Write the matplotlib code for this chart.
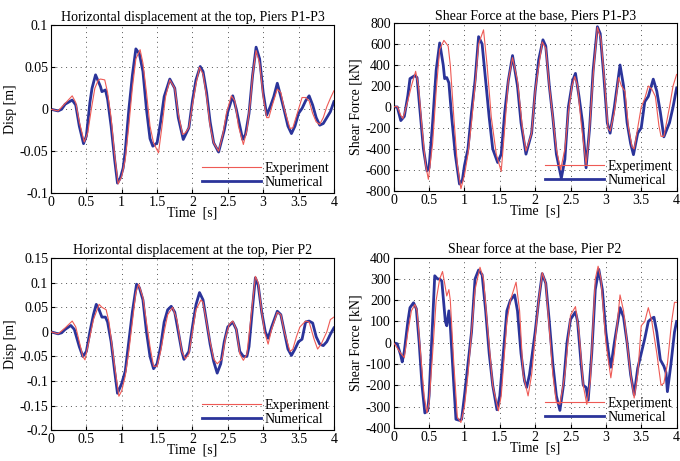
import matplotlib
matplotlib.use("Agg")
import matplotlib.pyplot as plt

plt.rcParams['font.family'] = ['Liberation Serif', 'DejaVu Serif']
plt.rcParams['axes.unicode_minus'] = False

x_ticks = [0, 0.5, 1, 1.5, 2, 2.5, 3, 3.5, 4]
x_tick_labels = ["0", "0.5", "1", "1.5", "2", "2.5", "3", "3.5", "4"]

titles = ["Horizontal displacement at the top, Piers P1-P3",
          "Shear Force at the base, Piers P1-P3",
          "Horizontal displacement at the top, Pier P2",
          "Shear force at the base, Pier P2"]
ylabels = ["Disp [m]", "Shear Force [kN]", "Disp [m]", "Shear Force [kN]"]
xlabel = "Time  [s]"
legend_labels = ["Experiment", "Numerical"]

y1_ticks = [-0.1, -0.05, 0, 0.05, 0.1]
y1_labels = ["-0.1", "-0.05", "0", "0.05", "0.1"]
y2_ticks = [-800, -600, -400, -200, 0, 200, 400, 600, 800]
y2_labels = ["-800", "-600", "-400", "-200", "0", "200", "400", "600", "800"]
y3_ticks = [-0.2, -0.15, -0.1, -0.05, 0, 0.05, 0.1, 0.15]
y3_labels = ["-0.2", "-0.15", "-0.1", "-0.05", "0", "0.05", "0.1", "0.15"]
y4_ticks = [-400, -300, -200, -100, 0, 100, 200, 300, 400]
y4_labels = ["-400", "-300", "-200", "-100", "0", "100", "200", "300", "400"]

# Panel 1: displacement, piers P1-P3  (time [s], disp [m])
p1_exp = [(0,0),(0.1,-0.002),(0.2,0.007),(0.3,0.016),(0.35,0.008),(0.4,-0.015),(0.47,-0.039),(0.52,-0.028),
          (0.57,0.0),(0.62,0.025),(0.67,0.035),(0.7,0.036),(0.76,0.035),(0.8,0.02),(0.85,-0.01),(0.9,-0.055),
          (0.95,-0.089),(1.0,-0.08),(1.05,-0.06),(1.1,-0.02),(1.15,0.025),(1.2,0.06),(1.26,0.071),(1.3,0.055),
          (1.35,0.02),(1.4,-0.02),(1.45,-0.04),(1.52,-0.052),(1.57,-0.02),(1.62,0.015),(1.68,0.035),(1.75,0.025),
          (1.8,-0.005),(1.86,-0.03),(1.9,-0.028),(1.95,-0.022),(2.0,0.005),(2.05,0.03),(2.1,0.05),(2.15,0.042),
          (2.2,0.015),(2.25,-0.02),(2.3,-0.04),(2.37,-0.05),(2.43,-0.03),(2.48,-0.005),(2.55,0.016),(2.6,0.01),
          (2.65,-0.02),(2.72,-0.042),(2.77,-0.025),(2.82,0.01),(2.85,0.04),(2.9,0.07),(2.95,0.055),(3.0,0.015),
          (3.05,-0.01),(3.08,-0.01),(3.13,0.005),(3.2,0.024),(3.25,0.02),(3.3,0.0),(3.38,-0.023),(3.42,-0.022),
          (3.5,0.0),(3.55,0.014),(3.6,0.014),(3.65,0.01),(3.7,-0.005),(3.75,-0.015),(3.8,-0.018),(3.85,-0.01),
          (3.9,0.003),(3.95,0.013),(4.0,0.022)]
p1_num = [(0,0),(0.1,-0.002),(0.15,0),(0.2,0.006),(0.3,0.011),(0.35,0.005),(0.4,-0.02),(0.46,-0.041),(0.5,-0.032),
          (0.55,0.008),(0.58,0.025),(0.63,0.041),(0.7,0.027),(0.72,0.021),(0.77,0.023),(0.8,0.012),(0.85,-0.02),
          (0.9,-0.06),(0.94,-0.088),(0.98,-0.082),(1.02,-0.07),(1.05,-0.05),(1.1,-0.001),(1.15,0.04),(1.2,0.072),
          (1.25,0.066),(1.3,0.045),(1.35,0.0),(1.4,-0.035),(1.44,-0.044),(1.5,-0.04),(1.55,-0.015),(1.6,0.015),
          (1.68,0.036),(1.75,0.025),(1.8,-0.01),(1.87,-0.036),(1.95,-0.022),(2.0,0.01),(2.05,0.035),(2.11,0.051),
          (2.15,0.045),(2.2,0.02),(2.25,-0.015),(2.3,-0.04),(2.37,-0.051),(2.45,-0.025),(2.5,-0.003),(2.57,0.016),
          (2.62,0.0),(2.67,-0.02),(2.71,-0.036),(2.75,-0.03),(2.8,-0.005),(2.85,0.04),(2.9,0.074),(2.95,0.06),
          (3.0,0.02),(3.05,-0.007),(3.1,0.003),(3.15,0.015),(3.2,0.031),(3.25,0.015),(3.3,-0.002),(3.35,-0.02),
          (3.4,-0.029),(3.45,-0.02),(3.5,-0.005),(3.55,0.001),(3.6,0.01),(3.65,0.016),(3.7,0.005),(3.75,-0.01),
          (3.8,-0.019),(3.85,-0.017),(3.9,-0.01),(3.95,-0.003),(4.0,0.009)]

# Panel 2: shear force, piers P1-P3 (time [s], force [kN])
p2_exp = [(0,0),(0.05,5),(0.1,-80),(0.13,-110),(0.2,60),(0.25,200),(0.31,340),(0.35,200),(0.4,-200),(0.45,-550),
          (0.49,-690),(0.55,-350),(0.6,150),(0.65,550),(0.71,635),(0.77,580),(0.8,400),(0.85,-100),(0.9,-550),
          (0.95,-780),(1.0,-650),(1.05,-450),(1.1,-150),(1.15,200),(1.2,600),(1.27,735),(1.32,400),(1.38,-100),
          (1.45,-450),(1.52,-615),(1.57,-200),(1.62,250),(1.68,470),(1.75,250),(1.82,-200),(1.87,-420),(1.95,-250),
          (2.0,150),(2.1,620),(2.15,560),(2.2,200),(2.3,-400),(2.36,-600),(2.42,-400),(2.47,-50),(2.52,200),
          (2.56,290),(2.6,200),(2.65,-150),(2.72,-550),(2.76,-300),(2.82,300),(2.88,760),(2.93,650),(2.98,250),
          (3.03,-200),(3.06,-230),(3.12,-50),(3.18,280),(3.22,200),(3.27,150),(3.32,-200),(3.37,-380),(3.4,-400),
          (3.45,-200),(3.5,0),(3.55,80),(3.6,200),(3.65,170),(3.7,100),(3.75,-180),(3.78,-280),(3.82,-280),
          (3.9,0),(3.95,200),(4.0,310)]
p2_num = [(0,0),(0.05,0),(0.1,-130),(0.15,-90),(0.2,110),(0.23,270),(0.3,300),(0.33,280),(0.38,-100),(0.42,-400),
          (0.47,-610),(0.5,-580),(0.55,-150),(0.6,350),(0.65,610),(0.7,400),(0.72,270),(0.75,280),(0.78,230),
          (0.82,-100),(0.87,-450),(0.93,-735),(0.97,-700),(1.0,-560),(1.05,-400),(1.1,-50),(1.15,250),(1.2,670),
          (1.25,600),(1.3,250),(1.35,-100),(1.4,-400),(1.47,-530),(1.52,-450),(1.57,-50),(1.62,250),(1.68,490),
          (1.75,200),(1.8,-150),(1.87,-450),(1.95,-250),(2.0,150),(2.05,450),(2.11,640),(2.15,580),(2.2,200),
          (2.25,-100),(2.3,-450),(2.37,-680),(2.42,-500),(2.47,0),(2.53,250),(2.57,320),(2.62,100),(2.67,-150),
          (2.72,-580),(2.77,-200),(2.82,350),(2.88,765),(2.92,700),(2.97,300),(3.02,-150),(3.06,-250),(3.12,0),
          (3.2,400),(3.25,200),(3.3,-150),(3.35,-350),(3.39,-455),(3.45,-250),(3.5,-200),(3.55,50),(3.6,100),
          (3.67,265),(3.72,150),(3.77,-50),(3.82,-285),(3.9,-150),(3.95,0),(4.0,180)]

# Panel 3: displacement, pier P2
p3_exp = [(0,0),(0.1,-0.004),(0.2,0.008),(0.3,0.022),(0.35,0.01),(0.45,-0.05),(0.48,-0.057),(0.55,-0.01),
          (0.6,0.025),(0.68,0.056),(0.72,0.05),(0.78,0.045),(0.82,0.02),(0.9,-0.07),(0.96,-0.131),(1.0,-0.12),
          (1.05,-0.09),(1.1,-0.04),(1.15,0.02),(1.2,0.08),(1.24,0.097),(1.3,0.07),(1.35,0.02),(1.4,-0.03),
          (1.45,-0.07),(1.5,-0.07),(1.55,-0.04),(1.6,0.0),(1.65,0.035),(1.72,0.05),(1.78,0.025),(1.85,-0.04),
          (1.9,-0.055),(1.95,-0.045),(2.0,0.0),(2.05,0.045),(2.12,0.065),(2.15,0.06),(2.2,0.02),(2.25,-0.02),
          (2.3,-0.055),(2.35,-0.065),(2.42,-0.055),(2.47,-0.01),(2.52,0.015),(2.57,0.022),(2.62,0.005),(2.67,-0.045),
          (2.72,-0.058),(2.77,-0.045),(2.82,0.02),(2.89,0.113),(2.93,0.1),(2.98,0.04),(3.02,0.0),(3.07,-0.025),
          (3.12,0.005),(3.2,0.04),(3.25,0.035),(3.3,0.0),(3.38,-0.04),(3.42,-0.035),(3.47,-0.01),(3.52,0.01),
          (3.6,0.022),(3.65,0.02),(3.72,-0.015),(3.77,-0.035),(3.82,-0.025),(3.9,0.0),(3.95,0.025),(4.0,0.03)]
p3_num = [(0,0),(0.1,-0.004),(0.15,-0.002),(0.2,0.005),(0.28,0.013),(0.33,0.005),(0.4,-0.03),(0.45,-0.05),
          (0.5,-0.04),(0.55,0.0),(0.6,0.035),(0.64,0.056),(0.68,0.045),(0.72,0.03),(0.77,0.03),(0.8,0.02),
          (0.85,-0.02),(0.9,-0.08),(0.94,-0.125),(1.0,-0.105),(1.05,-0.08),(1.1,-0.02),(1.15,0.04),(1.21,0.097),
          (1.25,0.09),(1.3,0.065),(1.35,0.0),(1.4,-0.05),(1.45,-0.075),(1.5,-0.065),(1.55,-0.03),(1.6,0.02),
          (1.65,0.045),(1.7,0.052),(1.75,0.04),(1.8,0.0),(1.85,-0.04),(1.88,-0.056),(1.95,-0.04),(2.0,0.01),
          (2.05,0.055),(2.1,0.08),(2.15,0.065),(2.2,0.02),(2.25,-0.025),(2.3,-0.06),(2.35,-0.084),(2.4,-0.065),
          (2.45,-0.02),(2.5,0.01),(2.57,0.02),(2.62,0.005),(2.67,-0.04),(2.72,-0.05),(2.77,-0.05),(2.8,-0.03),
          (2.85,0.05),(2.89,0.11),(2.93,0.095),(2.98,0.04),(3.03,0.0),(3.07,-0.013),(3.12,0.01),(3.2,0.042),
          (3.25,0.035),(3.3,0.0),(3.35,-0.035),(3.4,-0.048),(3.45,-0.035),(3.5,-0.02),(3.55,-0.015),(3.6,0.02),
          (3.65,0.022),(3.7,0.018),(3.75,-0.01),(3.8,-0.025),(3.85,-0.028),(3.9,-0.02),(3.95,-0.005),(4.0,0.008)]

# Panel 4: shear force, pier P2
p4_exp = [(0,0),(0.1,-50),(0.15,-70),(0.2,50),(0.25,150),(0.3,180),(0.33,150),(0.38,-50),(0.43,-250),(0.47,-330),
          (0.5,-280),(0.55,-50),(0.6,200),(0.65,300),(0.69,335),(0.72,280),(0.75,220),(0.78,250),(0.8,200),
          (0.85,-100),(0.9,-350),(0.95,-375),(1.0,-300),(1.05,-150),(1.1,50),(1.15,250),(1.22,355),(1.27,300),
          (1.32,100),(1.4,-200),(1.48,-320),(1.52,-250),(1.6,100),(1.65,200),(1.73,285),(1.78,150),(1.83,-150),
          (1.9,-250),(1.95,-150),(2.05,200),(2.1,330),(2.15,280),(2.25,-150),(2.3,-280),(2.35,-290),(2.42,-150),
          (2.5,130),(2.57,170),(2.62,50),(2.68,-200),(2.73,-290),(2.78,-180),(2.85,300),(2.89,360),(2.93,300),
          (3.0,0),(3.07,-165),(3.12,-50),(3.2,225),(3.25,150),(3.35,-150),(3.4,-260),(3.45,-150),(3.5,80),
          (3.55,100),(3.6,165),(3.65,100),(3.72,-50),(3.78,-200),(3.82,-190),(3.87,-100),(3.93,100),(3.97,190),
          (4.0,190)]
p4_num = [(0,0),(0.05,-5),(0.1,-60),(0.12,-90),(0.15,-40),(0.2,100),(0.23,165),(0.28,188),(0.32,160),(0.36,0),
          (0.4,-200),(0.44,-330),(0.48,-320),(0.5,-250),(0.55,100),(0.58,315),(0.62,300),(0.65,300),(0.68,290),
          (0.73,100),(0.75,80),(0.78,150),(0.8,80),(0.85,-200),(0.88,-360),(0.93,-365),(0.96,-360),(1.0,-250),
          (1.05,-100),(1.1,50),(1.15,300),(1.2,342),(1.25,320),(1.3,150),(1.35,-50),(1.4,-200),(1.46,-315),
          (1.5,-250),(1.55,-50),(1.6,150),(1.65,200),(1.71,225),(1.75,150),(1.8,-50),(1.85,-180),(1.88,-210),
          (1.92,-150),(2.0,50),(2.05,200),(2.1,325),(2.15,280),(2.2,100),(2.25,-100),(2.3,-250),(2.35,-318),
          (2.4,-200),(2.45,0),(2.5,110),(2.57,145),(2.6,100),(2.65,-100),(2.68,-200),(2.72,-210),(2.75,-270),
          (2.8,-50),(2.85,250),(2.9,345),(2.95,250),(3.0,50),(3.05,-80),(3.07,-115),(3.12,0),(3.2,165),(3.25,120),
          (3.3,0),(3.35,-150),(3.4,-245),(3.45,-120),(3.5,-50),(3.55,20),(3.6,100),(3.65,115),(3.68,120),
          (3.72,50),(3.77,-80),(3.82,-110),(3.85,-140),(3.87,-230),(3.92,-100),(3.97,50),(4.0,100)]

red = '#ee5a55'
blue = '#2b349a'

fig = plt.figure(figsize=(6.8, 4.61), dpi=100)
rects = [[0.075, 0.581, 0.416, 0.364],
         [0.579, 0.586, 0.416, 0.364],
         [0.075, 0.067, 0.416, 0.373],
         [0.579, 0.072, 0.416, 0.369]]
panels = [(p1_exp, p1_num, y1_ticks, y1_labels),
          (p2_exp, p2_num, y2_ticks, y2_labels),
          (p3_exp, p3_num, y3_ticks, y3_labels),
          (p4_exp, p4_num, y4_ticks, y4_labels)]

for i, (rect, (exp, num, yt, yl)) in enumerate(zip(rects, panels)):
    ax = fig.add_axes(rect)
    te, ve = zip(*exp)
    tn, vn = zip(*num)
    ax.plot(te, ve, color=red, lw=0.8, label=legend_labels[0], zorder=3)
    ax.plot(tn, vn, color=blue, lw=2.0, label=legend_labels[1], zorder=2)
    ax.set_xlim(0, 4)
    ax.set_ylim(yt[0], yt[-1])
    ax.set_xticks(x_ticks)
    ax.set_xticklabels(x_tick_labels)
    ax.set_yticks(yt)
    ax.set_yticklabels(yl)
    ax.tick_params(direction='in', length=3, labelsize=10, pad=2)
    ax.grid(True, linestyle=(0, (1, 4)), color='#555555', linewidth=0.7)
    for s in ax.spines.values():
        s.set_linewidth(0.8)
    ax.set_title(titles[i], fontsize=10, pad=3)
    ax.set_ylabel(ylabels[i], fontsize=10, labelpad=2)
    ax.set_xlabel(xlabel, fontsize=10, labelpad=-1.5)
    ax.legend(loc='lower right', frameon=False, fontsize=10, handlelength=4.2,
              handletextpad=0.3, labelspacing=0.05, borderaxespad=0.2, borderpad=0.1)

fig.savefig('out.png', dpi=100)
